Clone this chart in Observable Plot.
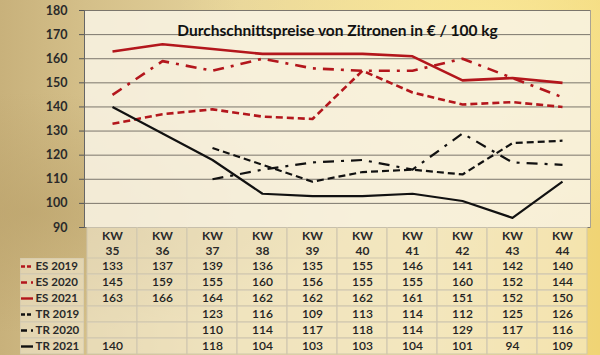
<!DOCTYPE html>
<html><head><meta charset="utf-8">
<script src="https://cdn.jsdelivr.net/npm/d3@7"></script>
<script src="https://cdn.jsdelivr.net/npm/@observablehq/plot@0.6"></script>
<style>
body{margin:0;}
#wrap{position:relative;width:600px;height:355px;overflow:hidden;font-family:Lato,"Open Sans",sans-serif;
background:
 radial-gradient(ellipse at 80% 8%, rgba(250,232,150,0.9) 0%, rgba(250,232,150,0) 45%),
 radial-gradient(ellipse at 5% 60%, rgba(185,160,105,0.6) 0%, rgba(185,160,105,0) 40%),
 linear-gradient(90deg,#c8b17b 0%,#d4bf89 14%,#e6d49c 40%,#eedb9c 70%,#f0d474 100%);}
.abs{position:absolute;}
</style></head><body><div id="wrap"></div>
<script>
const weeks = ["35","36","37","38","39","40","41","42","43","44"];
const seriesNames = ["ES 2019","ES 2020","ES 2021","TR 2019","TR 2020","TR 2021"];
const es2019 = [133,137,139,136,135,155,146,141,142,140];
const es2020 = [145,159,155,160,156,155,155,160,152,144];
const es2021 = [163,166,164,162,162,162,161,151,152,150];
const tr2019 = [null,null,123,116,109,113,114,112,125,126];
const tr2020 = [null,null,110,114,117,118,114,129,117,116];
const tr2021 = [140,null,118,104,103,103,104,101,94,109];
const yTicks = [90,100,110,120,130,140,150,160,170,180];
const title = "Durchschnittspreise von Zitronen in € / 100 kg";

const RED = "#b3161c", BLK = "#111111";
const styles = {
  "ES 2019": {stroke: RED, dash: "7,4", key: "4,2", w: 2.6},
  "ES 2020": {stroke: RED, dash: "11,7,3,7", key: "6,4,2,4", w: 2.6},
  "ES 2021": {stroke: RED, dash: null, key: null, w: 2.6},
  "TR 2019": {stroke: BLK, dash: "7,4", key: "4,2", w: 2.2},
  "TR 2020": {stroke: BLK, dash: "11,7,3,7", key: "6,4,2,4", w: 2.2},
  "TR 2021": {stroke: BLK, dash: null, key: null, w: 2.2}
};
const valuesBySeries = {"ES 2019": es2019, "ES 2020": es2020, "ES 2021": es2021, "TR 2019": tr2019, "TR 2020": tr2020, "TR 2021": tr2021};
const rows = [];
for (const s of seriesNames) valuesBySeries[s].forEach((v, i) => rows.push({series: s, week: weeks[i], value: v}));
const present = rows.filter(d => d.value != null);

const wrap = document.getElementById("wrap");
function place(el, left, top) { el.classList.add("abs"); el.style.left = left + "px"; el.style.top = top + "px"; wrap.appendChild(el); }

const lineMarks = seriesNames.map(s => Plot.line(present.filter(d => d.series === s), {
  x: "week", y: "value", stroke: styles[s].stroke, strokeWidth: styles[s].w,
  strokeDasharray: styles[s].dash || undefined, strokeLinejoin: "round", strokeLinecap: "butt"
}));

const chart = Plot.plot({
  width: 600, height: 228, marginLeft: 84, marginRight: 10, marginTop: 10, marginBottom: 1,
  style: {background: "transparent", fontFamily: "Lato, 'Open Sans', sans-serif", overflow: "visible"},
  x: {type: "point", domain: weeks, padding: 0.5, axis: null},
  y: {domain: [90, 180], axis: null, label: null},
  marks: [
    Plot.frame({fill: "#f8f3e3", fillOpacity: 0.88, stroke: "#aaa393"}),
    Plot.gridY(yTicks, {stroke: "#7b766c", strokeOpacity: 1, strokeWidth: 1}),
    Plot.axisY(yTicks, {tickSize: 5, tickPadding: 12, fontWeight: "bold", fontSize: 12.5, fill: "#2a2a2a", stroke: "#555", label: null}),
    Plot.frame({anchor: "left", stroke: "#666"}),
    Plot.text([title], {frameAnchor: "top", dy: 14, fontSize: 15.5, fontWeight: "bold", fill: "#111"}),
    ...lineMarks
  ]
});
place(chart, 0, 0);

const header = Plot.plot({
  width: 600, height: 31, marginLeft: 84, marginRight: 10, marginTop: 0, marginBottom: 0,
  style: {background: "transparent", fontFamily: "Lato, 'Open Sans', sans-serif"},
  x: {type: "band", domain: weeks, padding: 0, axis: null},
  marks: [
    Plot.cell(weeks, {x: d => d, fill: "#f7f0da", fillOpacity: 0.55, stroke: "#cfc6ad"}),
    Plot.text(weeks, {x: d => d, text: d => "KW\n" + d, frameAnchor: "middle", lineHeight: 1.18, fontSize: 12, fontWeight: "bold", fill: "#2a2a2a"})
  ]
});
place(header, 0, 227);

const body = Plot.plot({
  width: 600, height: 97, marginLeft: 84, marginRight: 10, marginTop: 0, marginBottom: 1,
  style: {background: "transparent", fontFamily: "Lato, 'Open Sans', sans-serif"},
  x: {type: "band", domain: weeks, padding: 0, axis: null},
  y: {type: "band", domain: seriesNames, padding: 0, axis: null},
  marks: [
    Plot.cell(rows, {x: "week", y: "series", fill: "#f7f0da", fillOpacity: 0.55, stroke: "#cfc6ad"}),
    Plot.text(present, {x: "week", y: "series", text: d => String(d.value), fontSize: 12, fontWeight: 600, fill: "#222"})
  ]
});
place(body, 0, 258);

const sampleMarks = seriesNames.map(s => Plot.ruleY([s], {
  x1: 1, x2: 13, stroke: styles[s].stroke, strokeWidth: 2.4, strokeDasharray: styles[s].key || undefined
}));
const labels = Plot.plot({
  width: 64, height: 97, marginLeft: 0, marginRight: 0, marginTop: 0, marginBottom: 1,
  style: {background: "transparent", fontFamily: "Lato, 'Open Sans', sans-serif"},
  x: {type: "linear", domain: [0, 64], axis: null},
  y: {type: "band", domain: seriesNames, padding: 0, axis: null},
  marks: [
    Plot.cell(seriesNames, {y: d => d, fill: "#f7f0da", fillOpacity: 0.55, stroke: "#cfc6ad"}),
    ...sampleMarks,
    Plot.text(seriesNames, {x: 15, y: d => d, text: d => d, textAnchor: "start", fontSize: 11.5, fontWeight: "bold", fill: "#2a2a2a"})
  ]
});
place(labels, 20, 258);
</script></body></html>
